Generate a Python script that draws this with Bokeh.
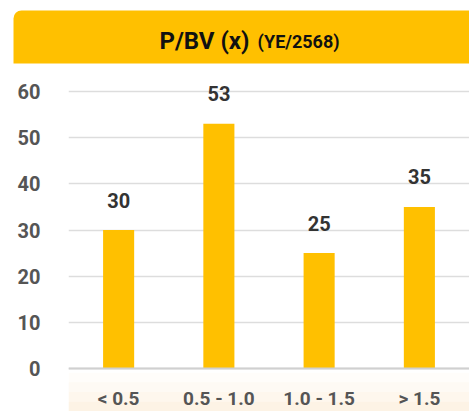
from bokeh.plotting import figure
from bokeh.models import ColumnDataSource, BoxAnnotation, Label, Range1d, FactorRange
from bokeh.layouts import column
from bokeh.core.properties import value
from bokeh.embed import file_html
from bokeh.resources import INLINE

categories = ["< 0.5", "0.5 - 1.0", "1.0 - 1.5", "> 1.5"]
values = [30, 53, 25, 35]
labels = ["30", "53", "25", "35"]
y_ticks = [0, 10, 20, 30, 40, 50, 60]
title_main = "P/BV (x)"
title_sub = "(YE/2568)"

BAR = "#FFC000"
FONT = "Roboto"

# ---------- header ----------
h = figure(width=469, height=64, x_range=Range1d(0, 469), y_range=Range1d(0, 64),
           output_backend="svg", toolbar_location=None,
           min_border=0, min_border_left=0, min_border_right=0,
           min_border_top=0, min_border_bottom=0)
h.frame_align = False
h.axis.visible = False
h.grid.visible = False
h.outline_line_color = None
h.add_layout(BoxAnnotation(left=13, right=469, top=54, bottom=1,
                           fill_color=BAR, fill_alpha=1.0, line_color=None,
                           border_radius=(8, 0, 0, 0)))
h.add_layout(Label(x=249, y=24, text=title_main, text_align="right",
                   text_baseline="middle", text_font=FONT, text_font_style="bold",
                   text_font_size="24px", text_color="#111111"))
h.add_layout(Label(x=257, y=23, text=title_sub, text_align="left",
                   text_baseline="middle", text_font=FONT, text_font_style="bold",
                   text_font_size="18px", text_color="#111111"))

# ---------- chart ----------
src = ColumnDataSource(dict(cat=categories, val=values, lab=labels))

p = figure(width=469, height=347, x_range=FactorRange(*categories, range_padding=0),
           y_range=Range1d(-9.31, 64.55), output_backend="svg", toolbar_location=None,
           min_border_left=68, min_border_right=0, min_border_top=6, min_border_bottom=0)
p.frame_align = False
p.outline_line_color = None

for i, a in enumerate([0.06, 0.14, 0.24, 0.34]):
    p.add_layout(BoxAnnotation(top=-0.9 - i * 2.1, bottom=-0.9 - (i + 1) * 2.1 - (0.2 if i == 3 else 0),
                               fill_color="#F9DDB2", fill_alpha=a, line_color=None,
                               level="underlay"))

p.vbar(x="cat", top="val", width=0.31, source=src, fill_color=BAR, line_color=None)
p.text(x="cat", y="val", text="lab", source=src, y_offset=-30, text_align="center",
       text_baseline="middle", text_font=value(FONT), text_font_style="bold",
       text_font_size="20px", text_color="#333333")

p.xgrid.grid_line_color = None
p.ygrid.grid_line_color = "#dddddd"
p.ygrid.grid_line_width = 1.5
p.yaxis.ticker = y_ticks
p.yaxis.axis_line_color = None
p.yaxis.major_tick_line_color = None
p.yaxis.minor_tick_line_color = None
p.yaxis.major_label_standoff = 22
p.yaxis.major_label_text_font = FONT
p.yaxis.major_label_text_font_style = "bold"
p.yaxis.major_label_text_font_size = "20px"
p.yaxis.major_label_text_color = "#555555"

p.xaxis.fixed_location = 0
p.xaxis.axis_line_color = "#d0d0d0"
p.xaxis.axis_line_width = 2
p.xaxis.major_tick_line_color = None
p.xaxis.minor_tick_line_color = None
p.xaxis.major_label_standoff = 12
p.xaxis.major_label_text_font = FONT
p.xaxis.major_label_text_font_style = "bold"
p.xaxis.major_label_text_font_size = "19px"
p.xaxis.major_label_text_color = "#555555"

open("out.html", "w").write(file_html(column(h, p, spacing=0), INLINE))
